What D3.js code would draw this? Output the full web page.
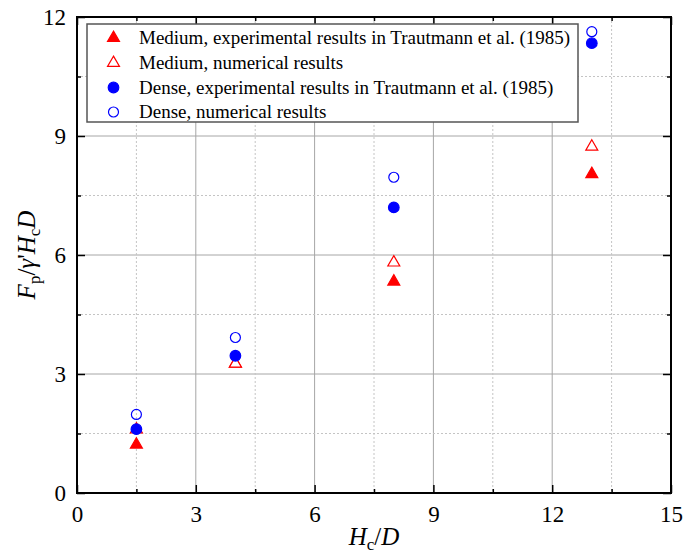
<!DOCTYPE html>
<html>
<head>
<meta charset="utf-8">
<script src="https://cdn.jsdelivr.net/npm/d3@7"></script>
<style>
  html, body { margin: 0; padding: 0; background: #fff; }
  svg { display: block; }
</style>
</head>
<body>
<svg id="chart" width="683" height="553"></svg>
<script>
// Normalised embedment ratio H_c/D
const ratios = [1.5, 4, 8, 13];
// Normalised pull-out capacity F_p/(γ' H_c D)
const mediumExperimental = [1.22, 3.26, 5.33, 8.04];
const mediumNumerical    = [1.60, 3.26, 5.81, 8.73];
const denseExperimental  = [1.61, 3.46, 7.20, 11.34];
const denseNumerical     = [1.98, 3.92, 7.96, 11.63];

const xMajorTicks = [0, 3, 6, 9, 12, 15];
const xMinorTicks = [1.5, 4.5, 7.5, 10.5, 13.5];
const yMajorTicks = [0, 3, 6, 9, 12];
const yMinorTicks = [1.5, 4.5, 7.5, 10.5];

const seriesLabels = [
  "Medium, experimental results in Trautmann et al. (1985)",
  "Medium, numerical results",
  "Dense, experimental results in Trautmann et al. (1985)",
  "Dense, numerical results"
];

const SERIF = "'Liberation Serif', 'Times New Roman', Times, serif";
const W = 683, H = 553;
const margin = { left: 77, top: 17, right: 12, bottom: 60 };
const iw = W - margin.left - margin.right;
const ih = H - margin.top - margin.bottom;

const svg = d3.select("#chart").style("font-family", SERIF);
const g = svg.append("g").attr("transform", `translate(${margin.left},${margin.top})`);

const x = d3.scaleLinear().domain([0, 15]).range([0, iw]);
const y = d3.scaleLinear().domain([0, 12]).range([ih, 0]);

// grid: solid major lines, dotted minor lines
const grid = g.append("g");
grid.selectAll(".gxM").data(xMajorTicks.filter(v => v > 0 && v < 15)).join("line")
  .attr("x1", d => x(d)).attr("x2", d => x(d)).attr("y1", 0).attr("y2", ih)
  .attr("stroke", "#a6a6a6").attr("stroke-width", 1);
grid.selectAll(".gym").data(yMajorTicks.filter(v => v > 0 && v < 12)).join("line")
  .attr("y1", d => y(d)).attr("y2", d => y(d)).attr("x1", 0).attr("x2", iw)
  .attr("stroke", "#a6a6a6").attr("stroke-width", 1);
grid.selectAll(".gxm").data(xMinorTicks).join("line")
  .attr("x1", d => x(d)).attr("x2", d => x(d)).attr("y1", 0).attr("y2", ih)
  .attr("stroke", "#c4c4c4").attr("stroke-width", 1).attr("stroke-dasharray", "2,2");
grid.selectAll(".gymn").data(yMinorTicks).join("line")
  .attr("y1", d => y(d)).attr("y2", d => y(d)).attr("x1", 0).attr("x2", iw)
  .attr("stroke", "#c4c4c4").attr("stroke-width", 1).attr("stroke-dasharray", "2,2");

// axes with inward ticks on all four sides
function styleAxis(sel) {
  sel.attr("font-family", SERIF).attr("font-size", 23);
  sel.select(".domain").remove();
  sel.selectAll(".tick line").attr("stroke", "#000").attr("stroke-width", 1.5);
  sel.selectAll(".tick text").style("font-family", SERIF).attr("font-size", 23).attr("fill", "#000");
}
const majorLen = 8, minorLen = 4;

g.append("g").attr("transform", `translate(0,${ih})`)
  .call(d3.axisBottom(x).tickValues(xMajorTicks).tickSize(-majorLen).tickPadding(13).tickFormat(d3.format("d")))
  .call(styleAxis);
g.append("g").attr("transform", `translate(0,${ih})`)
  .call(d3.axisBottom(x).tickValues(xMinorTicks).tickSize(-minorLen).tickFormat(""))
  .call(styleAxis);
g.append("g")
  .call(d3.axisTop(x).tickValues(xMajorTicks).tickSize(-majorLen).tickFormat(""))
  .call(styleAxis);
g.append("g")
  .call(d3.axisTop(x).tickValues(xMinorTicks).tickSize(-minorLen).tickFormat(""))
  .call(styleAxis);

g.append("g")
  .call(d3.axisLeft(y).tickValues(yMajorTicks).tickSize(-majorLen).tickPadding(11).tickFormat(d3.format("d")))
  .call(styleAxis);
g.append("g")
  .call(d3.axisLeft(y).tickValues(yMinorTicks).tickSize(-minorLen).tickFormat(""))
  .call(styleAxis);
g.append("g").attr("transform", `translate(${iw},0)`)
  .call(d3.axisRight(y).tickValues(yMajorTicks).tickSize(-majorLen).tickFormat(""))
  .call(styleAxis);
g.append("g").attr("transform", `translate(${iw},0)`)
  .call(d3.axisRight(y).tickValues(yMinorTicks).tickSize(-minorLen).tickFormat(""))
  .call(styleAxis);

// markers
const red = "#ff0000", blue = "#0000ff";
const triSym = d3.symbol().type(d3.symbolTriangle).size(62);
const series = [
  { values: mediumExperimental, shape: "tri", fill: red, stroke: red },
  { values: mediumNumerical,    shape: "tri", fill: "#fff", stroke: red },
  { values: denseExperimental,  shape: "circ", fill: blue, stroke: blue },
  { values: denseNumerical,     shape: "circ", fill: "none", stroke: blue }
];

function drawMarker(sel, s) {
  if (s.shape === "tri") {
    sel.append("path").attr("d", triSym())
      .attr("fill", s.fill).attr("stroke", s.stroke).attr("stroke-width", 1.2);
  } else {
    sel.append("circle").attr("r", s.fill === "none" ? 5 : 5.3)
      .attr("fill", s.fill).attr("stroke", s.stroke).attr("stroke-width", 1.2);
  }
}

const pts = g.append("g");
series.forEach(s => {
  ratios.forEach((r, i) => {
    const m = pts.append("g").attr("transform", `translate(${x(r)},${y(s.values[i])})`);
    drawMarker(m, s);
  });
});

// frame
g.append("rect").attr("x", 0).attr("y", 0).attr("width", iw).attr("height", ih)
  .attr("fill", "none").attr("stroke", "#000").attr("stroke-width", 2);

// legend
const legend = svg.append("g").attr("transform", "translate(87,24)");
legend.append("rect").attr("width", 491).attr("height", 98)
  .attr("fill", "#fff").attr("stroke", "#555").attr("stroke-width", 1.5);
const rowY = [14, 39, 63.5, 88];
series.forEach((s, i) => {
  const row = legend.append("g").attr("transform", `translate(26.5,${rowY[i]})`);
  drawMarker(row, s);
  legend.append("text").attr("x", 52).attr("y", rowY[i]).attr("dy", "0.34em")
    .style("font-family", SERIF).attr("font-size", 19).text(seriesLabels[i]);
});

// axis titles
const xt = svg.append("text").attr("x", margin.left + iw / 2).attr("y", 545)
  .attr("text-anchor", "middle").attr("font-size", 25).style("font-family", SERIF);
xt.append("tspan").attr("font-style", "italic").text("H");
xt.append("tspan").attr("font-size", 17).attr("dy", 5).text("c");
xt.append("tspan").attr("dy", -5).text("/");
xt.append("tspan").attr("font-style", "italic").text("D");

const yt = svg.append("text")
  .attr("transform", `translate(35,${margin.top + ih / 2}) rotate(-90)`)
  .attr("text-anchor", "middle").attr("font-size", 25).style("font-family", SERIF);
yt.append("tspan").attr("font-style", "italic").text("F");
yt.append("tspan").attr("font-size", 17).attr("dy", 5).text("p");
yt.append("tspan").attr("dy", -5).text("/");
yt.append("tspan").attr("font-style", "italic").text("γ");
yt.append("tspan").text("'");
yt.append("tspan").attr("font-style", "italic").text("H");
yt.append("tspan").attr("font-size", 17).attr("dy", 5).text("c");
yt.append("tspan").attr("dy", -5).attr("font-style", "italic").text("D");
</script>
</body>
</html>
